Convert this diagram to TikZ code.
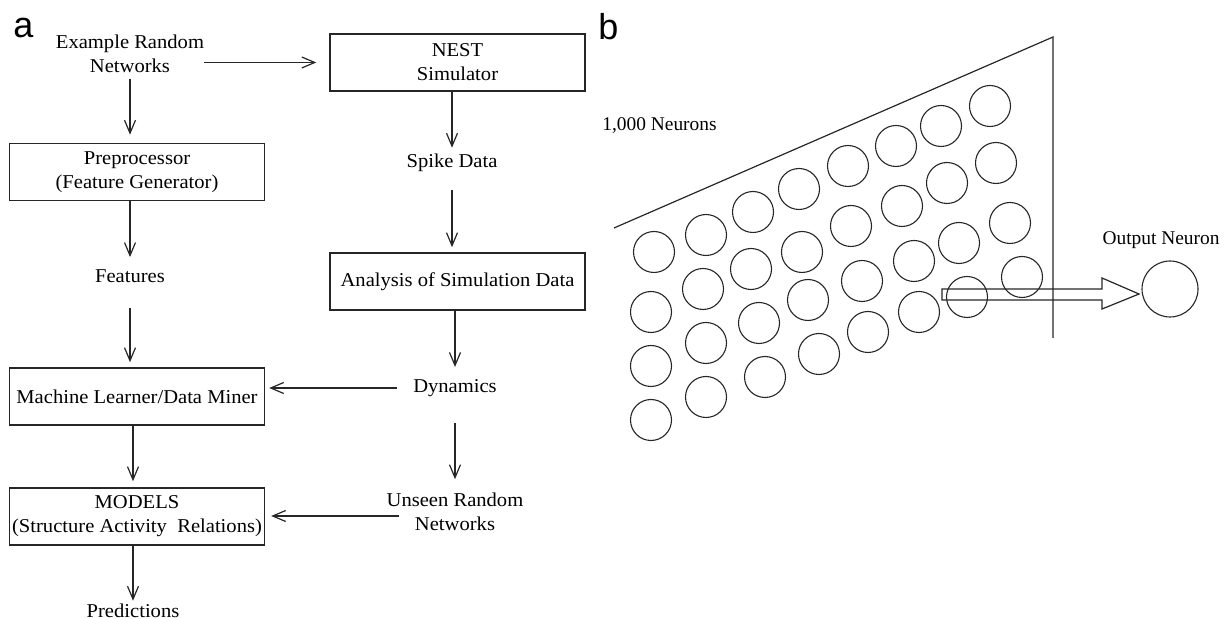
\documentclass[tikz,border=0pt]{standalone}
\usepackage{fontspec}
\setmainfont{Liberation Serif}[FakeStretch=1.05]
\newfontfamily\bfont{Liberation Serif}
\newfontfamily\lblfont{Liberation Sans}
\usetikzlibrary{arrows.meta}
\begin{document}
\begin{tikzpicture}[x=0.5pt,y=-0.5pt,
  every node/.style={font=\fontsize{9.8}{12}\selectfont, inner sep=0pt},
  lbl/.style={font=\lblfont\fontsize{18}{18}\selectfont, anchor=base west},
  box/.style={draw=black!85, line width=0.7pt, minimum width=127.5pt, minimum height=28.6pt, align=center},
  txt/.style={align=center},
  arr/.style={-{Straight Barb[length=6.5pt,width=5.5pt]}, line width=0.6pt, draw=black!85},
  neuron/.style={circle, draw=black!85, line width=0.55pt, minimum size=20.5pt},
  bline/.style={draw=black!85, line width=0.6pt},
  btxt/.style={font=\bfont\fontsize{9.7}{11}\selectfont}]
\useasboundingbox (0,0) rectangle (1225,619);

% ---------- panel a ----------
\node[lbl] (la) at (13,38) {a};
\node[txt] (ex) at (130,54) {Example Random\\Networks};
\node[box] (nest) at (457.5,62.5) {NEST\\Simulator};
\node[box] (pre) at (137,172) {Preprocessor\\(Feature Generator)};
\node (feat) at (130,276) {Features};
\node[box] (ml) at (137,396.5) {Machine Learner/Data Miner};
\node[box] (mod) at (137,516.5) {MODELS\\(Structure Activity\ \ Relations)};
\node (pred) at (133,611) {Predictions};
\node (spike) at (452,163) {Spike Data};
\node[box] (ana) at (457.5,281.5) {Analysis of Simulation Data};
\node (dyn) at (455,388) {Dynamics};
\node[txt] (uns) at (455,511.5) {Unseen Random\\Networks};

\draw[arr, shorten >=6.5pt] (ex.east |- nest.west) -- (nest.west);
\draw[arr, shorten <=3pt, shorten >=4pt] (ex.south) -- (ex.south |- pre.north);
\draw[arr, shorten >=6pt] (feat.north |- pre.south) -- (feat.north);
\draw[arr, shorten <=12.5pt, shorten >=2.5pt] (feat.south) -- (feat.south |- ml.north);
\draw[arr, shorten >=3pt] (pred.north |- ml.south) -- (pred.north |- mod.north);
\draw[arr, shorten >=1.5pt] (pred.north |- mod.south) -- (pred.north);

\draw[arr, shorten >=3pt] (spike.north |- nest.south) -- (spike.north);
\draw[arr, shorten <=9pt, shorten >=2.5pt] (spike.south) -- (spike.south |- ana.north);
\draw[arr, shorten >=6pt] (dyn.north |- ana.south) -- (dyn.north);
\draw[arr, shorten <=8pt, shorten >=2pt] (dyn.west) -- (dyn.west -| ml.east);
\draw[arr, shorten <=13pt, shorten >=6.5pt] (dyn.south) -- (dyn.south |- uns.north);
\coordinate (ustart) at ([xshift=6.5pt,yshift=-2.25pt]uns.west);
\draw[arr, shorten >=3pt] (ustart) -- (ustart -| mod.east);

% ---------- panel b ----------
\node[lbl] (lb) at (598,40) {b};
\node[btxt, anchor=west] (nlabel) at (602,126) {1,000 Neurons};
\node[btxt] (olabel) at (1161,240) {Output Neuron};

\draw[bline] (614,228) -- (1053,37) -- (1053,338);

\foreach \x/\y [count=\i] in {
  654/252, 651/312, 651/366, 651/420,
  706/235, 703/289, 706/343, 706/397,
  753/212, 751/269, 759/323, 765/377,
  799/189, 802/252, 808/300, 819/354,
  848/166, 851/226, 862/281, 868/332,
  896/146, 902/206, 914/261, 919/312,
  941/126, 947/183, 959/243, 967/297,
  990/106, 996/163, 1010/223, 1022/277}
  \node[neuron] (n\i) at (\x,\y) {};

\node[neuron, minimum size=28pt] (out) at (1170,289) {};

\draw[bline] (942,289) -- (1102,289) -- (1102,278) -- (1139,294) -- (1102,309)
  -- (1102,300) -- (942,300) -- cycle;
\end{tikzpicture}
\end{document}
